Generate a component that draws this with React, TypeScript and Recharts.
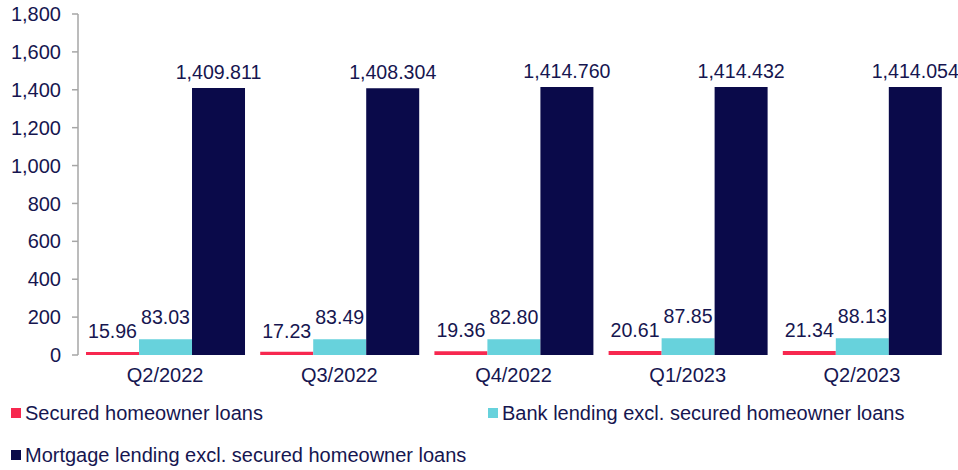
import React from "react";
import { BarChart, Bar, XAxis, YAxis, LabelList } from "recharts";

const categories = ["Q2/2022", "Q3/2022", "Q4/2022", "Q1/2023", "Q2/2023"];
const securedHomeowner = [15.96, 17.23, 19.36, 20.61, 21.34];
const bankLending = [83.03, 83.49, 82.8, 87.85, 88.13];
const mortgageLending = [1409.811, 1408.304, 1414.76, 1414.432, 1414.054];
const yTicks = [0, 200, 400, 600, 800, 1000, 1200, 1400, 1600, 1800];

const seriesNames = [
  "Secured homeowner loans",
  "Bank lending excl. secured homeowner loans",
  "Mortgage lending excl. secured homeowner loans",
];
const colors = ["#F7284F", "#67D2DC", "#0A0A4A"];

const data = categories.map((c, i) => ({
  name: c,
  s1: securedHomeowner[i],
  s2: bankLending[i],
  s3: mortgageLending[i],
}));

const FONT = "'Liberation Sans', Arial, sans-serif";
const TEXT = "#161650";
const AXIS = "#A6A6A6";
const FS = 20;
const LFS = 19.6;

const fmt2 = (v: any) => Number(v).toFixed(2);
const fmt3 = (v: any) =>
  Number(v).toLocaleString("en-US", { minimumFractionDigits: 3, maximumFractionDigits: 3 });
const fmtTick = (v: any) => Number(v).toLocaleString("en-US");

const legendPos = [
  { left: 11, top: 413 },
  { left: 488, top: 413 },
  { left: 11, top: 455 },
];

export default function App() {
  return (
    <div style={{ position: "absolute", left: 0, top: 0, width: 958, height: 470, background: "#fff", fontFamily: FONT }}>
      <BarChart
        width={958}
        height={470}
        data={data}
        margin={{ top: 14, right: 9, left: 0, bottom: 85 }}
        barCategoryGap="4.6%"
        barGap={0}
      >
        <XAxis
          dataKey="name"
          axisLine={false}
          tickLine={false}
          tickSize={0}
          tickMargin={13}
          height={30}
          interval={0}
          tick={{ fill: TEXT, fontSize: FS, fontFamily: FONT }}
        />
        <YAxis
          width={78}
          domain={[0, 1800]}
          ticks={yTicks}
          interval={0}
          tickFormatter={fmtTick}
          axisLine={{ stroke: AXIS, strokeWidth: 1.5 }}
          tickLine={{ stroke: AXIS, strokeWidth: 1.5 }}
          tickSize={6}
          tickMargin={11}
          tick={{ fill: TEXT, fontSize: FS, fontFamily: FONT }}
        />
        <Bar dataKey="s1" name={seriesNames[0]} fill={colors[0]} isAnimationActive={false}>
          <LabelList dataKey="s1" position="top" offset={14} formatter={fmt2} fill={TEXT} fontSize={LFS} fontFamily={FONT} />
        </Bar>
        <Bar dataKey="s2" name={seriesNames[1]} fill={colors[1]} isAnimationActive={false}>
          <LabelList dataKey="s2" position="top" offset={15} formatter={fmt2} fill={TEXT} fontSize={LFS} fontFamily={FONT} />
        </Bar>
        <Bar dataKey="s3" name={seriesNames[2]} fill={colors[2]} isAnimationActive={false}>
          <LabelList dataKey="s3" position="top" offset={9} formatter={fmt3} fill={TEXT} fontSize={LFS} fontFamily={FONT} />
        </Bar>
      </BarChart>
      {seriesNames.map((n, i) => (
        <div
          key={n}
          style={{
            position: "absolute",
            left: legendPos[i].left,
            top: legendPos[i].top - 12,
            height: 24,
            display: "flex",
            alignItems: "center",
            whiteSpace: "nowrap",
            color: TEXT,
            fontSize: FS,
            fontFamily: FONT,
          }}
        >
          <span style={{ display: "inline-block", width: 10, height: 10, background: colors[i], marginRight: 4 }} />
          <span>{n}</span>
        </div>
      ))}
    </div>
  );
}
